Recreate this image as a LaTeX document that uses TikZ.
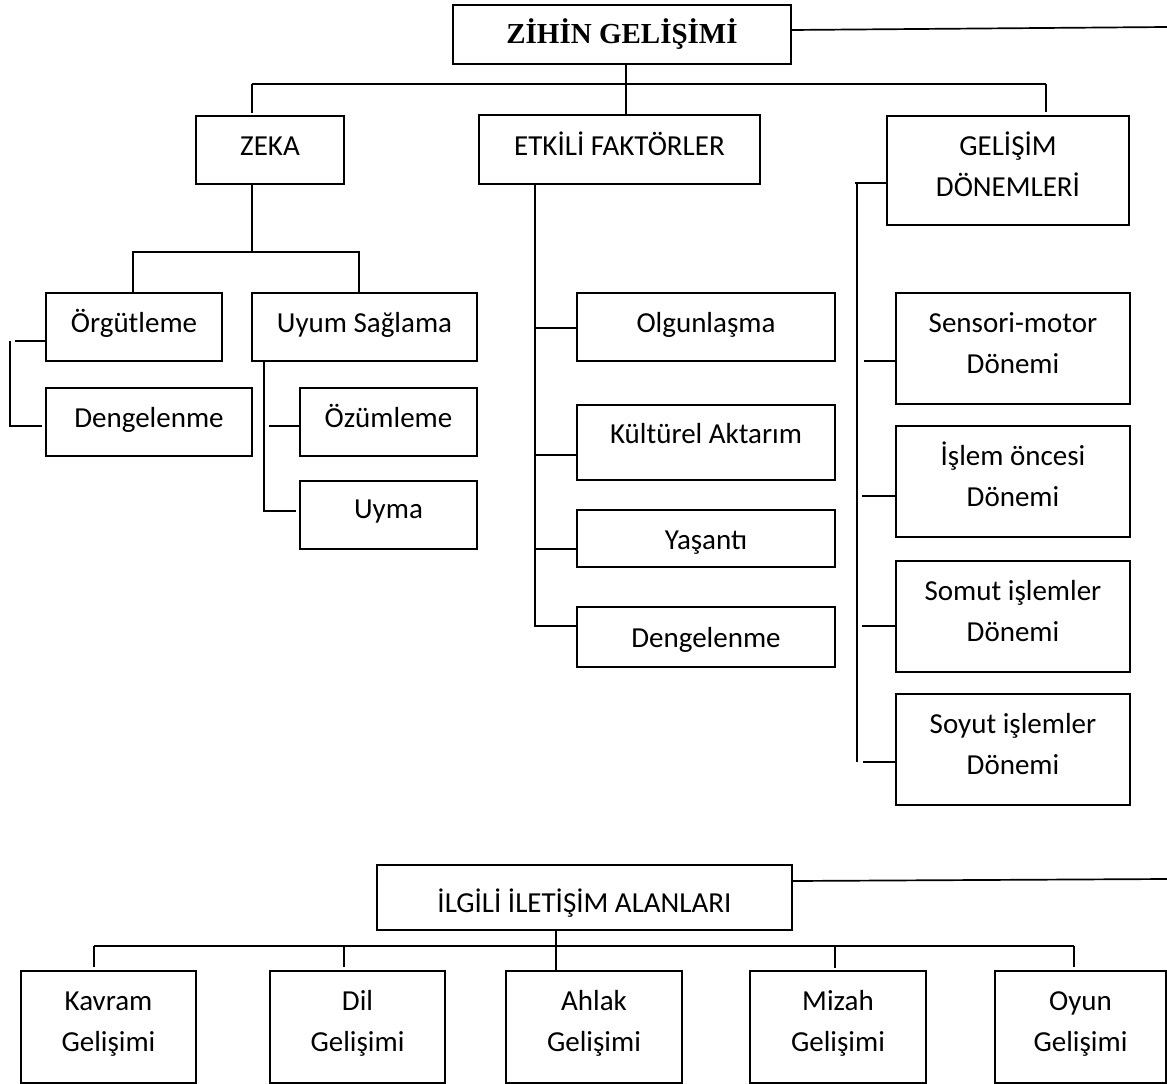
\documentclass[tikz,border=0pt]{standalone}
\usepackage{fontspec}
\setmainfont{Carlito}
\newfontfamily\headfont{Liberation Serif}
\begin{document}
\begin{tikzpicture}[x=1pt,y=-1pt,
  ln/.style={line width=1.7pt},
  box/.style={draw, line width=1.7pt, rectangle, inner sep=0pt, outer sep=0pt},
  lbl/.style={anchor=base, inner sep=0pt, font=\fontsize{29}{35}\selectfont},
  hlbl/.style={anchor=base, inner sep=0pt, font=\headfont\bfseries\fontsize{29}{35}\selectfont}]
\useasboundingbox (0,0) rectangle (1167,1084);

% box from its corners: name, x1, y1, x2, y2
\newcommand\mkbox[5]{\node[box, minimum width={#4-#2}, minimum height={#5-#3}] (#1) at ({(#2+#4)/2},{(#3+#5)/2}) {};}
% one line of text, its baseline set below the top of the box
\newcommand\one[3]{\node[lbl] (#1-a) at ([yshift=-#2pt]#1.north) {#3};}
% two lines of text
\newcommand\two[3]{\node[lbl] (#1-a) at ([yshift=-39pt]#1.north) {#2};
  \node[lbl] (#1-b) at ([yshift=-80pt]#1.north) {#3};}

% ---- boxes ----
\mkbox{title}{453}{5}{791}{64}
\mkbox{zeka}{196}{116}{344}{184}
\mkbox{etk}{479}{115}{760}{184}
\mkbox{gel}{887}{116}{1129}{225}
\mkbox{org}{46}{293}{222}{361}
\mkbox{uyum}{252}{293}{477}{361}
\mkbox{deng1}{46}{388}{252}{456}
\mkbox{ozum}{300}{388}{477}{456}
\mkbox{uyma}{300}{481}{477}{549}
\mkbox{olg}{577}{293}{835}{361}
\mkbox{kult}{577}{405}{835}{480}
\mkbox{yas}{577}{510}{835}{567}
\mkbox{deng2}{577}{607}{835}{667}
\mkbox{sens}{896}{293}{1130}{404}
\mkbox{islem}{896}{426}{1130}{537}
\mkbox{somut}{896}{561}{1130}{672}
\mkbox{soyut}{896}{694}{1130}{805}
\mkbox{ilgili}{377}{865}{792}{930}
\mkbox{kavram}{21}{971}{196}{1083}
\mkbox{dil}{270}{971}{445}{1083}
\mkbox{ahlak}{506}{971}{682}{1083}
\mkbox{mizah}{750}{971}{926}{1083}
\mkbox{oyun}{995}{971}{1166}{1083}

% ---- texts ----
\node[hlbl] (title-a) at ([yshift=-38pt]title.north) {ZİHİN GELİŞİMİ};
\one{zeka}{39}{ZEKA}
\one{etk}{40}{ETKİLİ FAKTÖRLER}
\two{gel}{GELİŞİM}{DÖNEMLERİ}
\one{org}{39}{Örgütleme}
\one{uyum}{39}{Uyum Sağlama}
\one{deng1}{39}{Dengelenme}
\one{ozum}{39}{Özümleme}
\one{uyma}{37}{Uyma}
\one{olg}{39}{Olgunlaşma}
\one{kult}{38}{Kültürel Aktarım}
\one{yas}{39}{Yaşantı}
\one{deng2}{40}{Dengelenme}
\two{sens}{Sensori-motor}{Dönemi}
\two{islem}{İşlem öncesi}{Dönemi}
\two{somut}{Somut işlemler}{Dönemi}
\two{soyut}{Soyut işlemler}{Dönemi}
\one{ilgili}{47}{İLGİLİ İLETİŞİM ALANLARI}
\two{kavram}{Kavram}{Gelişimi}
\two{dil}{Dil}{Gelişimi}
\two{ahlak}{Ahlak}{Gelişimi}
\two{mizah}{Mizah}{Gelişimi}
\two{oyun}{Oyun}{Gelişimi}

% ---- connectors: upper tree ----
\coordinate (tr) at (1167,27);
\draw[ln] ([yshift=4.5pt]title.east) -- (tr);
\coordinate (t1) at (626,84);
\coordinate (b1) at (252,84);
\coordinate (b2) at (1046,84);
\draw[ln] (t1 |- title.south) -- (t1 |- etk.north);
\draw[ln] (b1) -- (b2);
\draw[ln] (b1) -- ([yshift=3pt]b1 |- zeka.north);
\draw[ln] (b2) -- ([yshift=4pt]b2 |- gel.north);

% ZEKA branch
\coordinate (zv) at (252,252);
\coordinate (z1) at (133,252);
\coordinate (z2) at (359,252);
\draw[ln] (zv |- zeka.south) -- (zv);
\draw[ln] (z1 |- org.north) -- (z1) -- (z2) -- (z2 |- uyum.north);

% Örgütleme bracket
\coordinate (o1) at (15,341);
\coordinate (o2) at (10,341);
\coordinate (o3) at (10,426);
\coordinate (o4) at (42,426);
\draw[ln] (o1) -- (o1 -| org.west);
\draw[ln] (o2) -- (o3) -- (o4);

% Uyum Sağlama bracket
\coordinate (u1) at (264,511);
\coordinate (u2) at (269,426);
\draw[ln] (u1 |- uyum.south) -- (u1) -- ([xshift=-4pt]u1 -| uyma.west);
\draw[ln] (u2) -- (u2 -| ozum.west);

% ETKİLİ FAKTÖRLER bracket
\coordinate (e1) at (535,328);
\coordinate (e2) at (535,455);
\coordinate (e3) at (535,549);
\coordinate (e4) at (535,626);
\draw[ln] (e4 |- etk.south) -- (e4) -- (e4 -| deng2.west);
\draw[ln] (e1) -- (e1 -| olg.west);
\draw[ln] (e2) -- (e2 -| kult.west);
\draw[ln] (e3) -- (e3 -| yas.west);

% GELİŞİM DÖNEMLERİ bracket
\coordinate (g0) at (855,183);
\coordinate (g1) at (857,183);
\coordinate (g2) at (857,762);
\coordinate (k1) at (864,361);
\coordinate (k2) at (862,496);
\coordinate (k3) at (862,626);
\coordinate (k4) at (863,762);
\draw[ln] (g0) -- (g0 -| gel.west);
\draw[ln] (g1) -- (g2);
\draw[ln] (k1) -- (k1 -| sens.west);
\draw[ln] (k2) -- (k2 -| islem.west);
\draw[ln] (k3) -- (k3 -| somut.west);
\draw[ln] (k4) -- (k4 -| soyut.west);

% ---- connectors: lower tree ----
\coordinate (tr2) at (1167,879);
\draw[ln] ([yshift=16.5pt]ilgili.east) -- (tr2);
\coordinate (c0) at (556,946);
\coordinate (d1) at (94,946);
\coordinate (d2) at (344,946);
\coordinate (d4) at (835,946);
\coordinate (d5) at (1074,946);
\draw[ln] (c0 |- ilgili.south) -- (c0 |- ahlak.north);
\draw[ln] (d1) -- (d5);
\draw[ln] (d1) -- ([yshift=4pt]d1 |- kavram.north);
\draw[ln] (d2) -- ([yshift=4pt]d2 |- dil.north);
\draw[ln] (d4) -- ([yshift=3pt]d4 |- mizah.north);
\draw[ln] (d5) -- ([yshift=4pt]d5 |- oyun.north);
\end{tikzpicture}
\end{document}
